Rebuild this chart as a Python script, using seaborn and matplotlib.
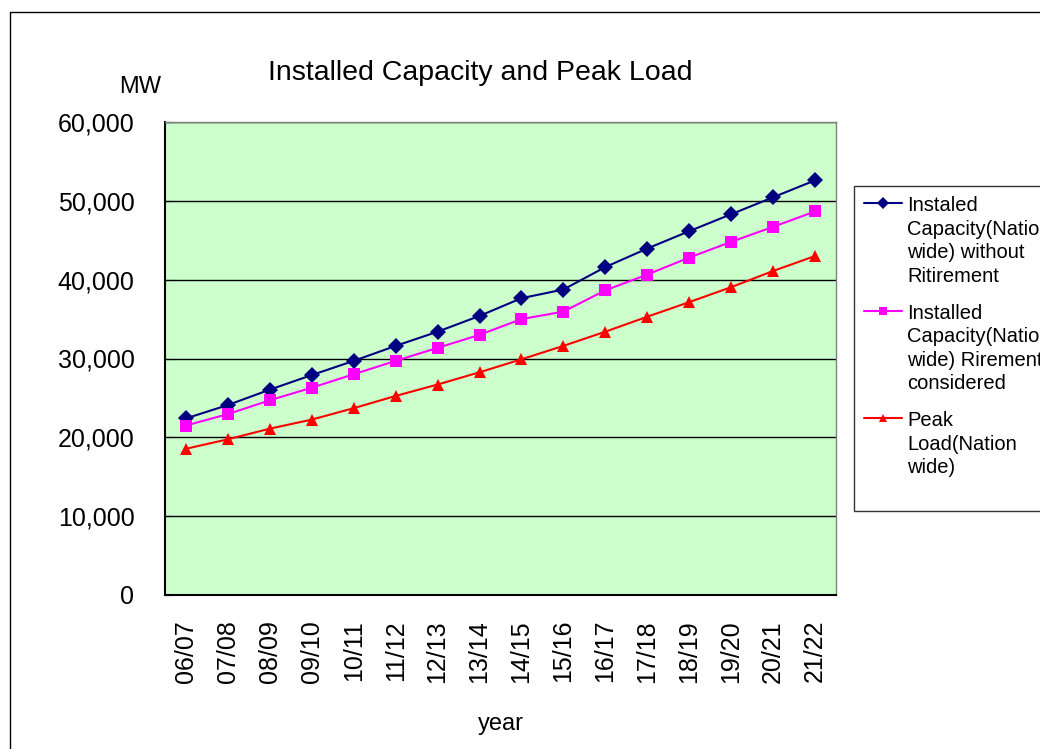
import numpy as np
import pandas as pd
import matplotlib.pyplot as plt
import matplotlib.ticker as mticker
from matplotlib.patches import Rectangle
import seaborn as sns

# dati
anni = ["06/07", "07/08", "08/09", "09/10", "10/11", "11/12", "12/13", "13/14",
        "14/15", "15/16", "16/17", "17/18", "18/19", "19/20", "20/21", "21/22"]
senza_ritiro = [22400, 24100, 26050, 27900, 29700, 31600, 33400, 35400,
                37650, 38750, 41600, 43950, 46150, 48300, 50450, 52600]
con_ritiro = [21500, 22950, 24700, 26300, 28000, 29700, 31350, 33000,
              35000, 35950, 38650, 40650, 42800, 44800, 46700, 48650]
picco = [18550, 19750, 21100, 22250, 23700, 25250, 26700, 28250,
         29900, 31600, 33400, 35300, 37150, 39050, 41100, 43000]

serie = ["Instaled\nCapacity(Nation\nwide) without\nRitirement",
         "Installed\nCapacity(Nation\nwide) Rirement\nconsidered",
         "Peak\nLoad(Nation\nwide)"]

df = pd.DataFrame({
    "x": list(range(len(anni))) * 3,
    "MW": senza_ritiro + con_ritiro + picco,
    "serie": [serie[0]] * len(anni) + [serie[1]] * len(anni) + [serie[2]] * len(anni),
})

sns.set_style("white")
plt.rcParams["font.family"] = ["Liberation Sans", "DejaVu Sans"]
plt.rcParams.update({"text.color": "black", "xtick.color": "black",
                     "ytick.color": "black", "axes.labelcolor": "black"})

fig = plt.figure(figsize=(10.4, 7.49), dpi=100)
ax = fig.add_axes([165 / 1040, 1 - 595 / 749, 671 / 1040, 473 / 749])
ax.set_facecolor("#CCFFCC")

colori = {serie[0]: "#000080", serie[1]: "#FF00FF", serie[2]: "#FF0000"}
marker = {serie[0]: "D", serie[1]: "s", serie[2]: "^"}
sns.lineplot(data=df, x="x", y="MW", hue="serie", style="serie", palette=colori,
             markers=marker, dashes=False, markersize=8, linewidth=1.5,
             markeredgewidth=0, ax=ax, legend=True)

ax.set_xlim(-0.5, len(anni) - 0.5)
ax.set_ylim(0, 60000)
ax.set_yticks(np.arange(0, 60001, 10000))
ax.yaxis.set_major_formatter(mticker.StrMethodFormatter("{x:,.0f}"))
ax.grid(axis="y", color="black", linewidth=1)
ax.set_axisbelow(True)

ax.set_xticks(range(len(anni)))
ax.set_xticklabels(anni, rotation=90, fontsize=18)
ax.set_xticks(np.arange(0.5, len(anni) - 1, 1), minor=True)
ax.tick_params(axis="x", which="major", length=0, pad=18)
ax.tick_params(axis="x", which="minor", direction="in", length=6, color="black", width=1)
ax.tick_params(axis="y", direction="in", length=6, color="black", labelsize=18, pad=22, left=True)

for lato in ["top", "right"]:
    ax.spines[lato].set_color("#808080")
    ax.spines[lato].set_linewidth(1)
for lato in ["left", "bottom"]:
    ax.spines[lato].set_color("black")
    ax.spines[lato].set_linewidth(1.5)

ax.set_xlabel("year", fontsize=17, labelpad=22)
ax.set_ylabel("")
fig.text(140 / 1040, 1 - 87 / 749, "MW", fontsize=17, ha="center", va="center")
fig.text(480 / 1040, 1 - 73 / 749, "Installed Capacity and Peak Load", fontsize=20.5,
         ha="center", va="center")

handles, labels = ax.get_legend_handles_labels()
ax.legend_.remove()
labels = labels[:2] + [labels[2] + "\n"]
leg = fig.legend(handles, labels, loc="upper left", bbox_to_anchor=(854 / 1040, 1 - 186 / 749),
                 frameon=True, fancybox=False, edgecolor="black", fontsize=14.5,
                 handlelength=1.9, handletextpad=0.25, labelspacing=0.9,
                 borderpad=0.5, borderaxespad=0)
leg.get_frame().set_linewidth(1)
for h in leg.legend_handles:
    h.set_markersize(6)
for t in leg.get_texts():
    t.set_linespacing(1.3)
# maniglia allineata alla prima riga del testo
for col in leg._legend_handle_box.get_children():
    for riga in col.get_children():
        riga.align = "top"

fig.patches.append(Rectangle((10 / 1040, -0.1), 2, 1.1 - 12 / 749, transform=fig.transFigure,
                             fill=False, edgecolor="black", linewidth=1))

fig.savefig("out.png", dpi=100)
